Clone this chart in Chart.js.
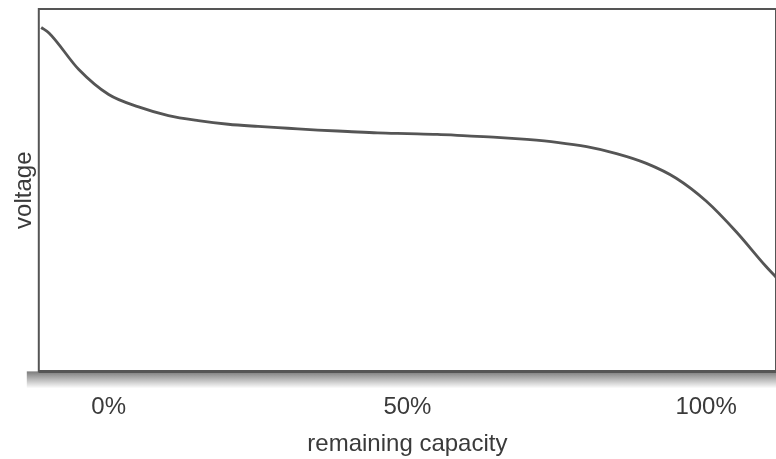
<!DOCTYPE html>
<html>
<head>
<meta charset="utf-8">
<script src="https://cdn.jsdelivr.net/npm/chart.js@4.4.0/dist/chart.umd.min.js"></script>
<style>
  html, body { margin: 0; padding: 0; background: #fff; }
  #wrap { width: 776px; height: 459px; }
</style>
</head>
<body>
<div id="wrap"><canvas id="chartVoltage"></canvas></div>
<script>
// remaining capacity (%)
const capacidad = [-11.3, -10, -5, 0, 5, 10, 15, 20, 25, 30, 35, 40, 45, 50, 55, 60, 65, 70, 75, 80, 85, 90, 95, 100, 105, 110, 111.7];
// voltage (relative, 0-100)
const voltaje = [94.9, 93.4, 83.3, 76.4, 73.0, 70.6, 69.2, 68.2, 67.6, 67.1, 66.6, 66.2, 65.8, 65.6, 65.4, 65.0, 64.6, 64.0, 63.2, 62.0, 60.1, 57.4, 53.3, 47.0, 38.6, 29.0, 26.0];
const ticksX = [0, 50, 100];

const gris = '#555';
const fuente = 'Liberation Sans, Arial, sans-serif';

// marco y sombra del eje inferior
const marco = {
  id: 'marco',
  afterDraw(chart) {
    const { ctx, chartArea: a } = chart;
    ctx.save();
    const g = ctx.createLinearGradient(0, a.bottom, 0, a.bottom + 17);
    g.addColorStop(0, 'rgba(90,90,90,0.8)');
    g.addColorStop(1, 'rgba(90,90,90,0)');
    ctx.fillStyle = g;
    ctx.fillRect(a.left - 12, a.bottom, a.right - a.left + 12, 17);
    ctx.strokeStyle = '#555';
    ctx.lineWidth = 2;
    ctx.strokeRect(a.left, a.top, a.right - a.left, a.bottom - a.top);
    ctx.lineWidth = 3;
    ctx.beginPath();
    ctx.moveTo(a.left, a.bottom);
    ctx.lineTo(a.right, a.bottom);
    ctx.stroke();
    ctx.restore();
  }
};

new Chart(document.getElementById('chartVoltage').getContext('2d'), {
  type: 'line',
  data: {
    datasets: [{
      data: capacidad.map((x, i) => ({ x: x, y: voltaje[i] })),
      borderColor: gris,
      borderWidth: 2.8,
      pointRadius: 0,
      cubicInterpolationMode: 'monotone',
      fill: false
    }]
  },
  options: {
    responsive: true,
    maintainAspectRatio: false,
    animation: false,
    layout: { padding: { top: 9, right: 0, bottom: 0, left: 0 } },
    plugins: {
      legend: { display: false },
      tooltip: { enabled: false }
    },
    scales: {
      x: {
        type: 'linear',
        min: -11.7,
        max: 111.7,
        afterBuildTicks: axis => { axis.ticks = ticksX.map(v => ({ value: v })); },
        grid: { display: false, drawTicks: false },
        border: { display: false },
        ticks: {
          padding: 22,
          color: '#3a3a3a',
          maxRotation: 0,
          font: { family: fuente, size: 24 },
          callback: v => v + '%'
        },
        title: {
          display: true,
          text: 'remaining capacity',
          color: '#3a3a3a',
          font: { family: fuente, size: 24 },
          padding: { top: -14, bottom: 0 }
        }
      },
      y: {
        min: 0,
        max: 100,
        grid: { display: false, drawTicks: false },
        border: { display: false },
        ticks: { display: false },
        title: {
          display: true,
          text: 'voltage',
          color: '#3a3a3a',
          font: { family: fuente, size: 24 },
          padding: { top: 10, bottom: 0 }
        }
      }
    }
  },
  plugins: [marco]
});
</script>
</body>
</html>
